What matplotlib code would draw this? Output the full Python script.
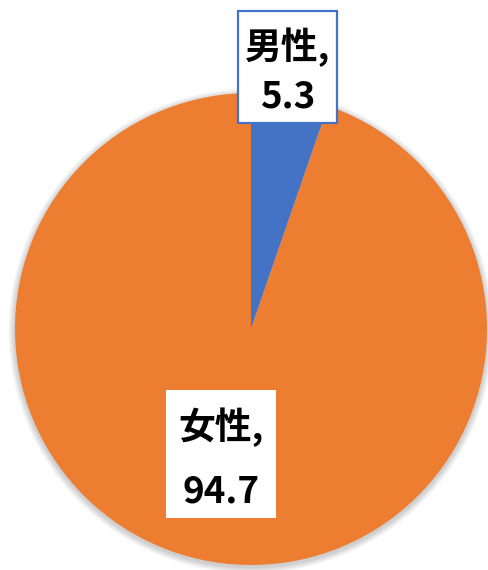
import matplotlib
matplotlib.use("Agg")
import matplotlib.pyplot as plt
from matplotlib.patches import Rectangle, Circle

categories = ["男性", "女性"]
values = [5.3, 94.7]
colors = ["#4472C4", "#ED7D31"]

plt.rcParams['font.family'] = ['Noto Sans CJK JP', 'DejaVu Sans']

W, H = 488, 570
fig = plt.figure(figsize=(W / 100, H / 100), dpi=100)
ax = fig.add_axes([0, 0, 1, 1])
ax.set_xlim(0, W)
ax.set_ylim(0, H)
ax.set_aspect('equal')
ax.axis('off')

cx, cy, r = 251, H - 329, 236

# soft shadow
for i in range(8):
    ax.add_patch(Circle((cx, cy - 2), r + 1 + i * 0.8, color='black', alpha=0.025, lw=0, zorder=0))

ax.pie(values, colors=colors, startangle=90, counterclock=False,
       center=(cx, cy), radius=r, wedgeprops=dict(linewidth=0))
ax.set_xlim(0, W)
ax.set_ylim(0, H)
ax.set_aspect('equal')
ax.axis('off')

# label boxes (pixel coords: x0, y_top, x1, y_bottom)
boxes = [
    dict(x0=238, y0=11, x1=337, y1=123, edge="#4472C4", lw=1.6, l1=47, l2=97),
    dict(x0=166, y0=390, x1=276, y1=518, edge="none", lw=0, l1=427, l2=492),
]
for cat, val, b in zip(categories, values, boxes):
    ax.add_patch(Rectangle((b['x0'], H - b['y1']), b['x1'] - b['x0'], b['y1'] - b['y0'],
                           facecolor='white', edgecolor=b['edge'], linewidth=b['lw'], zorder=5))
    xc = (b['x0'] + b['x1']) / 2
    ax.text(xc, H - b['l1'], f"{cat},", ha='center', va='center', fontsize=26.5,
            fontweight='bold', color='black', zorder=6)
    ax.text(xc, H - b['l2'], f"{val}", ha='center', va='center', fontsize=26.5,
            fontweight='bold', color='black', zorder=6)

fig.savefig("out.png", dpi=100)
